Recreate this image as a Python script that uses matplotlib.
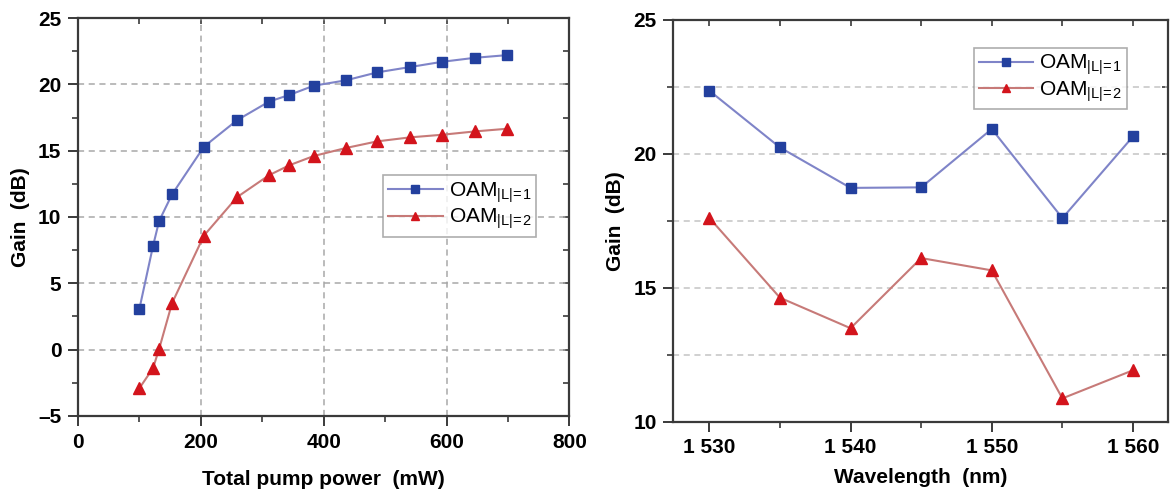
import matplotlib.pyplot as plt
from matplotlib.ticker import MultipleLocator, FuncFormatter, NullFormatter

plt.rcParams['font.family'] = ['Liberation Sans', 'DejaVu Sans']
plt.rcParams['font.weight'] = 'bold'
plt.rcParams['mathtext.fontset'] = 'custom'
plt.rcParams['mathtext.rm'] = 'Liberation Sans'
plt.rcParams['mathtext.default'] = 'regular'

# left panel: gain vs total pump power
power = [100, 122, 132, 153, 205, 259, 311, 344, 384, 436, 487, 540, 593, 646, 698]
gain_l1_power = [3.1, 7.8, 9.7, 11.7, 15.3, 17.3, 18.7, 19.2, 19.9, 20.3, 20.9, 21.3, 21.7, 22.0, 22.2]
gain_l2_power = [-2.9, -1.4, 0.05, 3.5, 8.6, 11.5, 13.15, 13.9, 14.6, 15.2, 15.7, 16.0, 16.2, 16.45, 16.65]

# right panel: gain vs wavelength
wavelength = [1530, 1535, 1540, 1545, 1550, 1555, 1560]
gain_l1_wl = [22.36, 20.24, 18.73, 18.75, 20.93, 17.6, 20.65]
gain_l2_wl = [17.61, 14.63, 13.49, 16.11, 15.65, 10.87, 11.92]

labels = [r'OAM$_{|L|\!=\!1}$', r'OAM$_{|L|\!=\!2}$']

blue_line = '#7f84c8'
blue_mk = '#23409e'
red_line = '#c77a78'
red_mk = '#d3141c'
spine_c = '#3a3a3a'

fig = plt.figure(figsize=(11.72, 4.92), dpi=100)
ax1 = fig.add_axes([0.0666, 0.1545, 0.4192, 0.8089])
ax2 = fig.add_axes([0.5745, 0.1429, 0.4221, 0.8165])


def style(ax, xmaj, xmin, ymaj, ymin):
    for s in ax.spines.values():
        s.set_color(spine_c)
        s.set_linewidth(1.6)
    ax.xaxis.set_major_locator(MultipleLocator(xmaj))
    ax.xaxis.set_minor_locator(MultipleLocator(xmin))
    ax.yaxis.set_major_locator(MultipleLocator(ymaj))
    ax.yaxis.set_minor_locator(MultipleLocator(ymin))
    ax.tick_params(axis='both', which='major', labelsize=15, width=1.4, length=7,
                   color=spine_c, pad=5, direction='out')
    ax.tick_params(axis='both', which='minor', width=1.2, length=4, color=spine_c,
                   direction='out')
    # inward ticks on top and right
    top = ax.secondary_xaxis('top')
    top.xaxis.set_major_locator(MultipleLocator(xmin))
    top.xaxis.set_major_formatter(NullFormatter())
    top.tick_params(direction='in', length=4, width=1.2, color=spine_c)
    right = ax.secondary_yaxis('right')
    right.yaxis.set_major_locator(MultipleLocator(ymin))
    right.yaxis.set_major_formatter(NullFormatter())
    right.tick_params(direction='in', length=4, width=1.2, color=spine_c)
    for sa in (top, right):
        for s in sa.spines.values():
            s.set_visible(False)
    ax.set_axisbelow(True)


def legend(ax, anchor):
    leg = ax.legend(loc='upper left', bbox_to_anchor=anchor, prop={'size': 15, 'weight': 'normal'},
                    frameon=True, fancybox=False, handlelength=2.6, borderpad=0.25,
                    labelspacing=0.1, handletextpad=0.3, borderaxespad=0, markerscale=0.8)
    leg.get_frame().set_edgecolor('#999999')
    leg.get_frame().set_linewidth(1.2)


ax1.plot(power, gain_l1_power, color=blue_line, lw=1.5, marker='s', ms=7,
         mfc=blue_mk, mec=blue_mk, label=labels[0])
ax1.plot(power, gain_l2_power, color=red_line, lw=1.5, marker='^', ms=8,
         mfc=red_mk, mec=red_mk, label=labels[1])
ax1.set_xlim(0, 800)
ax1.set_ylim(-5, 25)
style(ax1, 200, 100, 5, 2.5)
ax1.yaxis.set_major_formatter(FuncFormatter(lambda v, p: f'{v:.0f}'.replace('-', '\u2013')))
ax1.grid(True, which='major', ls=(0, (4, 3)), color='#a8a8a8', lw=1.1)
ax1.set_xlabel('Total pump power  (mW)', fontsize=15, fontweight='bold', labelpad=13)
ax1.set_ylabel('Gain  (dB)', fontsize=15, fontweight='bold', labelpad=6)
legend(ax1, (0.621, 0.6055))

ax2.plot(wavelength, gain_l1_wl, color=blue_line, lw=1.5, marker='s', ms=7,
         mfc=blue_mk, mec=blue_mk, label=labels[0])
ax2.plot(wavelength, gain_l2_wl, color=red_line, lw=1.5, marker='^', ms=8,
         mfc=red_mk, mec=red_mk, label=labels[1])
ax2.set_xlim(1527.45, 1562.48)
ax2.set_ylim(10, 25)
style(ax2, 10, 5, 5, 2.5)
ax2.xaxis.set_major_formatter(FuncFormatter(lambda v, p: f'{int(v) // 1000} {int(v) % 1000:03d}'))
ax2.grid(True, axis='y', which='both', ls=(0, (4, 3)), color='#c4c4c4', lw=1.1)
ax2.set_xlabel('Wavelength  (nm)', fontsize=15, fontweight='bold', labelpad=8)
ax2.set_ylabel('Gain  (dB)', fontsize=15, fontweight='bold', labelpad=6)
legend(ax2, (0.607, 0.931))

fig.savefig('out.png', dpi=100)
